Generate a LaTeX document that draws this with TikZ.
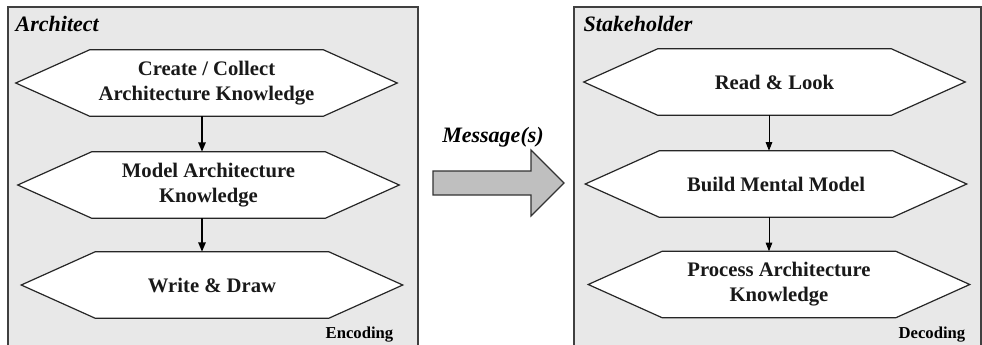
\documentclass[tikz,border=0pt]{standalone}
\usepackage{fontspec}
\setmainfont{Liberation Serif}
\usetikzlibrary{arrows.meta}

\tikzset{
  panel/.style={draw=black!75, line width=1.1pt, fill=black!9},
  hexframe/.style={draw=black!85, line width=0.9pt, fill=white},
  hexanchor/.style={inner sep=0pt, minimum width=285.75pt, minimum height=49.5pt},
  hextext/.style={font=\bfseries\fontsize{15.5}{18.8}\selectfont, align=center, text=black!90},
  flowthick/.style={-{Triangle[length=7pt,width=5.5pt]}, line width=1.3pt},
  flowthin/.style={-{Triangle[length=6.5pt,width=5pt]}, line width=0.7pt},
  actor/.style={font=\bfseries\itshape\fontsize{16.5}{18}\selectfont, anchor=base west},
  phase/.style={font=\bfseries\fontsize{12.5}{14}\selectfont, anchor=base east},
  bigarrow/.style={draw=black!80, line width=0.9pt, fill=black!25, line join=miter}
}

% hexagon box: name, centre x, centre y, text
\newcommand\hexbox[4]{%
  \path node[hexanchor] (#1) at (#2,#3) {};
  \draw[hexframe] (#1.west) -- ([xshift=55.5pt]#1.north west)
    -- ([xshift=-55.5pt]#1.north east) -- (#1.east)
    -- ([xshift=-55.5pt]#1.south east) -- ([xshift=55.5pt]#1.south west) -- cycle;
  \node[hextext] (#1-label) at (#1.center) {#4};
}

\begin{document}
\begin{tikzpicture}[x=0.75pt, y=-0.75pt]
  \useasboundingbox (0,0) rectangle (982,344);

  % the two actors
  \draw[panel] (8,7) rectangle (418,352);
  \draw[panel] (574,7) rectangle (981,352);
  \node[actor] (architect) at (11,31) {Architect};
  \node[actor] (stakeholder) at (579,31) {Stakeholder};
  \node[phase] (encoding) at (398,338) {Encoding};
  \node[phase] (decoding) at (970,338) {Decoding};

  % encoding steps
  \hexbox{create}{206.5}{83}{Create / Collect\\Architecture Knowledge}
  \hexbox{model}{208.5}{185}{Model Architecture\\Knowledge}
  \hexbox{write}{212}{285}{Write \& Draw}

  % decoding steps
  \hexbox{read}{774.5}{82}{Read \& Look}
  \hexbox{build}{776}{184}{Build Mental Model}
  \hexbox{process}{779}{284.5}{Process Architecture\\Knowledge}

  \coordinate (encx) at (202,0);
  \coordinate (decx) at (769,0);
  \draw[flowthick] (create.south -| encx) -- (model.north -| encx);
  \draw[flowthick] (model.south -| encx) -- (write.north -| encx);
  \draw[flowthin] (read.south -| decx) -- (build.north -| decx);
  \draw[flowthin] (build.south -| decx) -- (process.north -| decx);

  % transmission
  \draw[bigarrow] (433,171) -- (531,171) -- (531,150) -- (564,183)
    -- (531,216) -- (531,195) -- (433,195) -- cycle;
  \node[font=\bfseries\itshape\fontsize{16.5}{18}\selectfont] (message) at (493,137) {Message(s)};
\end{tikzpicture}
\end{document}
